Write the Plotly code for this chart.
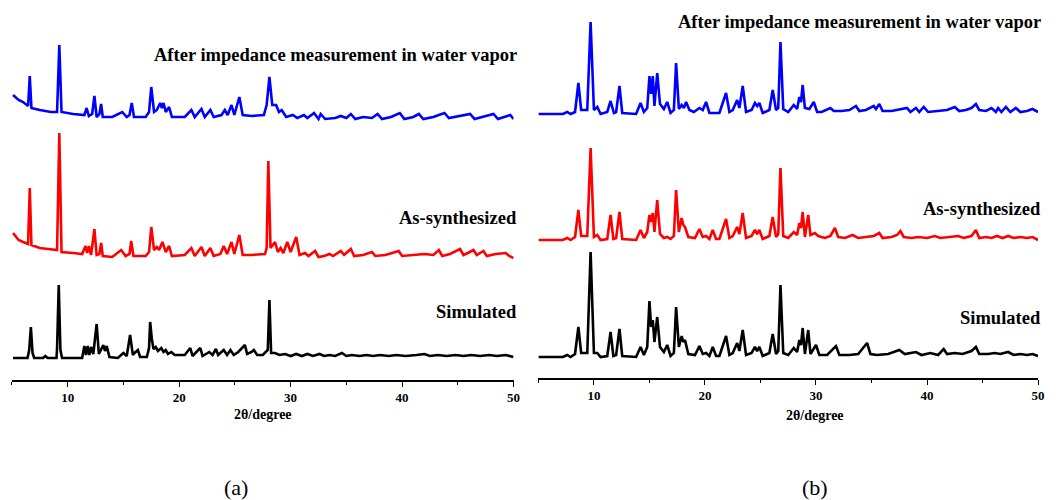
import plotly.graph_objects as go

# ---------------- data (2theta in degrees, intensity in arbitrary units) ----------------
# Panel (a)
a_after_x = [5.1, 5.6, 6.0, 6.45, 6.6, 6.75, 7.5, 8.5, 9.05, 9.25, 9.45, 10.5, 11.5, 11.7, 11.9, 12.2, 12.4, 12.6,
             12.85, 13.0, 13.15, 14.0, 14.9, 15.3, 15.55, 15.75, 15.95, 17.0, 17.3, 17.5, 17.75, 18.0, 18.3, 18.45,
             18.6, 18.8, 19.1, 19.35, 20.5, 21.1, 21.4, 22.0, 22.3, 22.8, 23.1, 23.8, 24.1, 24.35, 24.7, 24.95, 25.4,
             25.7, 26.5, 27.6, 27.85, 28.1, 28.35, 28.7, 28.95, 29.2, 29.6, 30.2, 30.6, 31.2, 31.5, 32.1, 32.5, 32.7,
             33.1, 34.0, 34.5, 35.0, 35.4, 35.8, 36.5, 37.3, 37.8, 38.2, 39.0, 39.8, 40.2, 41.0, 41.5, 41.9, 42.8,
             43.3, 43.8, 44.2, 45.0, 46.1, 46.5, 47.3, 48.2, 48.6, 49.2, 49.7, 50.0]
a_after_y = [25, 20, 18, 14, 44, 12, 10, 8, 8, 75, 8, 6, 5, 12, 4, 6, 24, 3,
             6, 16, 3, 3, 8, 3, 5, 17, 3, 3, 8, 33, 8, 10, 17, 12,
             17, 8, 13, 3, 3, 10, 3, 11, 3, 10, 3, 5, 10, 5, 15, 5, 23,
             5, 4, 5, 15, 43, 15, 15, 8, 10, 3, 5, 2, 5, 2, 7, 1, 6,
             1, 2, 4, 2, 6, 1, 3, 2, 6, 1, 3, 7, 1, 3, 6, 1, 3,
             5, 7, 2, 4, 6, 1, 3, 6, 1, 3, 5, 1]

a_as_x = [5.1, 5.6, 6.0, 6.45, 6.6, 6.75, 7.5, 8.5, 9.05, 9.25, 9.45, 10.5, 11.3, 11.6, 11.75, 11.9, 12.1, 12.4, 12.6,
          12.85, 13.0, 13.15, 14.0, 14.8, 15.2, 15.55, 15.7, 15.9, 17.0, 17.3, 17.5, 17.75, 18.0, 18.2, 18.5, 18.8,
          19.1, 19.35, 20.5, 21.1, 21.4, 22.0, 22.3, 22.8, 23.1, 23.7, 24.0, 24.3, 24.7, 24.95, 25.4, 25.7, 26.5,
          27.7, 27.85, 28.0, 28.2, 28.6, 28.85, 29.1, 29.35, 29.7, 30.0, 30.5, 30.8, 31.3, 31.6, 32.2, 32.5, 33.0,
          33.5, 33.8, 34.5, 34.8, 35.4, 35.7, 36.5, 37.3, 37.6, 38.5, 39.7, 40.0, 41.0, 42.0, 42.8, 43.3, 43.6,
          44.3, 45.2, 45.5, 45.9, 46.4, 46.7, 47.3, 47.6, 48.4, 49.3, 49.6, 50.0]
a_as_y = [25, 18, 16, 14, 70, 13, 10, 9, 8, 125, 6, 5, 4, 12, 5, 12, 3, 29, 3,
          4, 15, 2, 1, 8, 2, 4, 17, 2, 2, 6, 31, 8, 11, 8, 16, 6,
          12, 2, 3, 10, 2, 11, 2, 10, 2, 4, 12, 4, 16, 4, 23, 3, 3,
          4, 10, 97, 10, 16, 6, 10, 5, 16, 6, 21, 3, 5, 2, 7, 1, 2,
          4, 2, 7, 3, 9, 2, 3, 6, 2, 3, 7, 2, 3, 4, 3, 8, 2,
          4, 9, 3, 5, 8, 3, 7, 2, 4, 5, 2, 0]

a_sim_x = [5.1, 6.4, 6.55, 6.7, 6.85, 7.0, 7.8, 8.0, 8.2, 9.0, 9.05, 9.2, 9.35, 9.5, 11.3, 11.5, 11.65, 11.8, 11.95,
           12.1, 12.3, 12.6, 12.8, 12.9, 13.2, 13.35, 13.5, 13.75, 14.5, 15.0, 15.3, 15.6, 15.85, 16.0, 16.3, 16.5,
           17.1, 17.3, 17.4, 17.55, 17.7, 17.9, 18.1, 18.4, 18.6, 18.8, 19.0, 19.3, 19.6, 20.0, 20.5, 21.0, 21.2,
           21.9, 22.1, 22.7, 23.0, 23.3, 23.5, 24.0, 24.3, 24.6, 24.9, 25.3, 25.9, 26.1, 26.5, 26.7, 27.0, 27.5,
           27.95, 28.1, 28.25, 28.6, 29.0, 29.5, 30.0, 30.5, 31.0, 31.5, 32.0, 32.6, 33.0, 33.5, 34.0, 34.6, 35.0,
           35.5, 36.2, 36.8, 37.4, 38.0, 38.8, 39.5, 40.3, 41.3, 42.0, 42.5, 43.2, 44.0, 44.8, 45.5, 46.2, 47.0,
           47.8, 48.5, 49.3, 50.0]
a_sim_y = [0, 0, 8, 31, 5, 0, 0, 2, 0, 0, 10, 73, 8, 0, 0, 12, 3, 12, 3,
           11, 4, 34, 4, 6, 13, 7, 12, 1, 0, 5, 2, 23, 3, 5, 8, 1,
           1, 10, 36, 19, 9, 11, 7, 10, 6, 8, 4, 6, 3, 3, 3, 10, 2,
           10, 2, 6, 3, 9, 3, 8, 3, 8, 3, 6, 13, 4, 6, 8, 3, 3,
           8, 58, 5, 5, 3, 4, 2, 4, 2, 4, 2, 4, 2, 3, 2, 5, 2,
           3, 2, 3, 2, 3, 2, 3, 2, 3, 4, 2, 3, 2, 3, 2, 3, 2,
           3, 2, 3, 1]

# Panel (b)
b_after_x = [5.0, 7.2, 7.6, 7.9, 8.3, 8.6, 8.85, 9.4, 9.7, 10.0, 10.3, 10.6, 11.2, 11.5, 11.8, 12.0, 12.3, 12.55,
             13.8, 14.2, 14.5, 14.8, 15.0, 15.15, 15.3, 15.45, 15.7, 15.95, 16.3, 16.6, 16.9, 17.2, 17.4, 17.65,
             17.9, 18.1, 18.3, 18.6, 19.0, 19.5, 19.8, 20.1, 20.4, 21.3, 21.9, 22.2, 22.5, 22.9, 23.1, 23.4, 23.7,
             24.2, 24.5, 24.7, 24.9, 25.2, 25.8, 26.1, 26.4, 26.6, 26.8, 27.05, 27.5, 28.0, 28.3, 28.5, 28.65, 28.8,
             29.0, 29.4, 29.8, 30.1, 30.5, 31.3, 31.6, 32.3, 33.0, 33.6, 33.9, 34.5, 35.2, 35.4, 35.7, 36.0, 36.8,
             37.4, 38.2, 38.5, 39.0, 39.3, 39.7, 40.1, 41.0, 41.8, 42.5, 42.9, 43.5, 44.0, 44.4, 44.7, 45.3, 45.8,
             46.2, 46.4, 46.7, 47.1, 47.5, 48.0, 48.4, 49.0, 49.5, 50.0]
b_after_y = [0, 0, 2, 0, 2, 31, 4, 4, 92, 4, 7, 0, 2, 13, 1, 2, 28, 1,
             0, 11, 2, 6, 38, 20, 38, 8, 41, 10, 5, 12, 1, 4, 51, 5,
             9, 6, 12, 4, 2, 6, 4, 12, 1, 1, 21, 2, 4, 14, 6, 28, 2,
             4, 11, 8, 11, 1, 4, 24, 4, 6, 72, 5, 2, 9, 5, 17, 12, 29,
             6, 5, 12, 2, 2, 6, 3, 3, 4, 8, 3, 4, 8, 5, 10, 3, 3,
             4, 6, 2, 6, 2, 7, 2, 3, 4, 7, 3, 4, 6, 10, 4, 3, 6,
             2, 6, 2, 7, 2, 6, 2, 3, 5, 2]

b_as_x = [5.0, 7.2, 7.6, 7.9, 8.3, 8.6, 8.85, 9.4, 9.7, 10.0, 10.3, 10.6, 11.2, 11.5, 11.75, 12.0, 12.3, 12.55,
          13.8, 14.2, 14.5, 14.8, 15.0, 15.15, 15.3, 15.45, 15.7, 15.95, 16.3, 16.6, 16.9, 17.2, 17.4, 17.65,
          17.9, 18.05, 18.2, 18.5, 19.1, 19.5, 19.8, 20.1, 20.4, 20.7, 21.0, 21.3, 21.9, 22.2, 22.5, 22.9, 23.1,
          23.4, 23.7, 24.2, 24.5, 24.7, 24.9, 25.2, 25.8, 26.1, 26.4, 26.6, 26.8, 27.05, 27.5, 28.0, 28.3, 28.5,
          28.65, 28.8, 29.0, 29.3, 29.5, 29.9, 30.2, 30.8, 31.3, 31.7, 32.0, 32.6, 33.3, 33.8, 34.5, 35.2, 35.7,
          36.0, 36.8, 37.3, 37.6, 37.9, 38.6, 39.2, 40.0, 40.7, 41.2, 42.0, 42.8, 43.3, 44.0, 44.4, 44.7, 45.3,
          45.8, 46.3, 46.8, 47.3, 47.8, 48.4, 49.0, 49.5, 50.0]
b_as_y = [0, 0, 2, 0, 3, 30, 4, 4, 92, 3, 5, 0, 1, 25, 1, 2, 28, 1,
          0, 10, 2, 8, 25, 18, 27, 8, 40, 6, 2, 3, 1, 4, 50, 8,
          22, 15, 13, 3, 2, 11, 3, 4, 1, 10, 1, 1, 21, 2, 4, 13, 6,
          27, 2, 4, 10, 6, 10, 1, 4, 23, 3, 6, 72, 4, 2, 8, 5, 17,
          12, 28, 3, 25, 5, 7, 4, 2, 4, 12, 3, 2, 5, 2, 3, 4, 7,
          2, 3, 5, 9, 3, 2, 3, 2, 4, 2, 3, 4, 2, 4, 10, 2, 3,
          2, 4, 2, 4, 2, 3, 2, 3, 0]

b_sim_x = [5.0, 7.2, 7.6, 7.9, 8.3, 8.6, 8.85, 9.4, 9.7, 10.0, 10.3, 10.6, 11.2, 11.5, 11.75, 12.0, 12.3, 12.55,
           13.8, 14.2, 14.5, 14.8, 15.0, 15.15, 15.3, 15.45, 15.7, 15.95, 16.3, 16.6, 16.9, 17.2, 17.4, 17.65,
           17.9, 18.05, 18.2, 18.5, 19.1, 19.5, 19.8, 20.1, 20.4, 20.7, 21.0, 21.3, 21.9, 22.2, 22.5, 22.9, 23.1,
           23.4, 23.7, 24.2, 24.5, 24.7, 24.9, 25.2, 25.8, 26.1, 26.4, 26.6, 26.8, 27.05, 27.5, 28.0, 28.3, 28.5,
           28.65, 28.8, 29.0, 29.3, 29.5, 30.0, 30.3, 31.0, 31.8, 32.1, 33.0, 33.8, 34.6, 34.9, 35.5, 36.5, 37.5,
           38.0, 39.0, 39.5, 40.3, 41.0, 41.5, 41.8, 42.5, 43.2, 44.0, 44.4, 44.7, 45.5, 46.1, 46.6, 47.3, 47.8,
           48.4, 49.0, 49.5, 50.0]
b_sim_y = [0, 0, 2, 0, 3, 30, 4, 4, 105, 4, 4, 0, 1, 25, 1, 2, 28, 1,
           0, 10, 2, 10, 56, 30, 37, 15, 40, 10, 5, 12, 1, 4, 50, 10,
           21, 15, 17, 3, 2, 11, 3, 4, 1, 10, 1, 1, 21, 2, 4, 14, 6,
           27, 2, 4, 10, 6, 10, 1, 4, 23, 3, 6, 72, 4, 2, 9, 5, 17,
           12, 29, 3, 27, 3, 12, 2, 2, 11, 2, 2, 3, 14, 3, 2, 3, 7,
           3, 5, 2, 4, 2, 8, 3, 4, 3, 6, 10, 3, 3, 4, 3, 5, 2,
           3, 2, 3, 1]

x_ticks = [10, 20, 30, 40, 50]
labels_a = ["After impedance measurement in water vapor", "As-synthesized", "Simulated"]
labels_b = ["After impedance measurement in water vapor", "As-synthesized", "Simulated"]

# ---------------- style / stacking ----------------
colors = ["#0000FF", "#FF0000", "#000000"]
offsets_a = [260, 122, 22]
offsets_b = [264, 138, 21]

fig = go.Figure()
series_a = [(a_after_x, a_after_y), (a_as_x, a_as_y), (a_sim_x, a_sim_y)]
series_b = [(b_after_x, b_after_y), (b_as_x, b_as_y), (b_sim_x, b_sim_y)]
for (xs, ys), c, off in zip(series_a, colors, offsets_a):
    fig.add_trace(go.Scatter(x=xs, y=[v + off for v in ys], mode="lines",
                             line=dict(color=c, width=2.6), xaxis="x", yaxis="y", showlegend=False))
for (xs, ys), c, off in zip(series_b, colors, offsets_b):
    fig.add_trace(go.Scatter(x=xs, y=[v + off for v in ys], mode="lines",
                             line=dict(color=c, width=2.6), xaxis="x2", yaxis="y2", showlegend=False))

W, H = 1056, 500
axis_common = dict(range=[5, 50], tickvals=x_ticks, showline=True, linecolor="black", linewidth=1.5,
                   ticks="outside", ticklen=5, tickwidth=1.2, tickcolor="black", showgrid=False, zeroline=False,
                   tickfont=dict(family="Liberation Serif", size=13, color="black", weight="bold"),
                   minor=dict(dtick=5, ticks="outside", ticklen=3, tickcolor="black", tickwidth=1))

fig.update_layout(
    width=W, height=H, margin=dict(l=0, r=0, t=0, b=0),
    paper_bgcolor="white", plot_bgcolor="white",
    xaxis=dict(domain=[12 / W, 517 / W], anchor="y", **axis_common),
    yaxis=dict(domain=[120 / H, 1], range=[0, 380], visible=False),
    xaxis2=dict(domain=[542 / W, 1045 / W], anchor="y2", **axis_common),
    yaxis2=dict(domain=[122 / H, 1], range=[0, 378], visible=False),
)

def ann(text, px, py, anchor="right", size=18.5, bold=True):
    fig.add_annotation(text=("<b>%s</b>" % text) if bold else text, x=px / W, y=1 - py / H,
                       xref="paper", yref="paper", xanchor=anchor, yanchor="middle", showarrow=False,
                       xshift=5 if anchor == "right" else 0,
                       font=dict(family="Liberation Serif", size=size, color="black"))

ann(labels_a[0], 517, 55)
ann(labels_a[1], 517, 218)
ann(labels_a[2], 517, 312)
ann(labels_b[0], 1045, 22)
ann(labels_b[1], 1045, 209)
ann(labels_b[2], 1045, 318)
ann("2θ/degree", 265, 414, anchor="center", size=14)
ann("2θ/degree", 820, 415, anchor="center", size=14)
ann("(a)", 238, 487, anchor="center", size=22, bold=False)
ann("(b)", 820, 487, anchor="center", size=22, bold=False)

fig.write_html("out.html")
